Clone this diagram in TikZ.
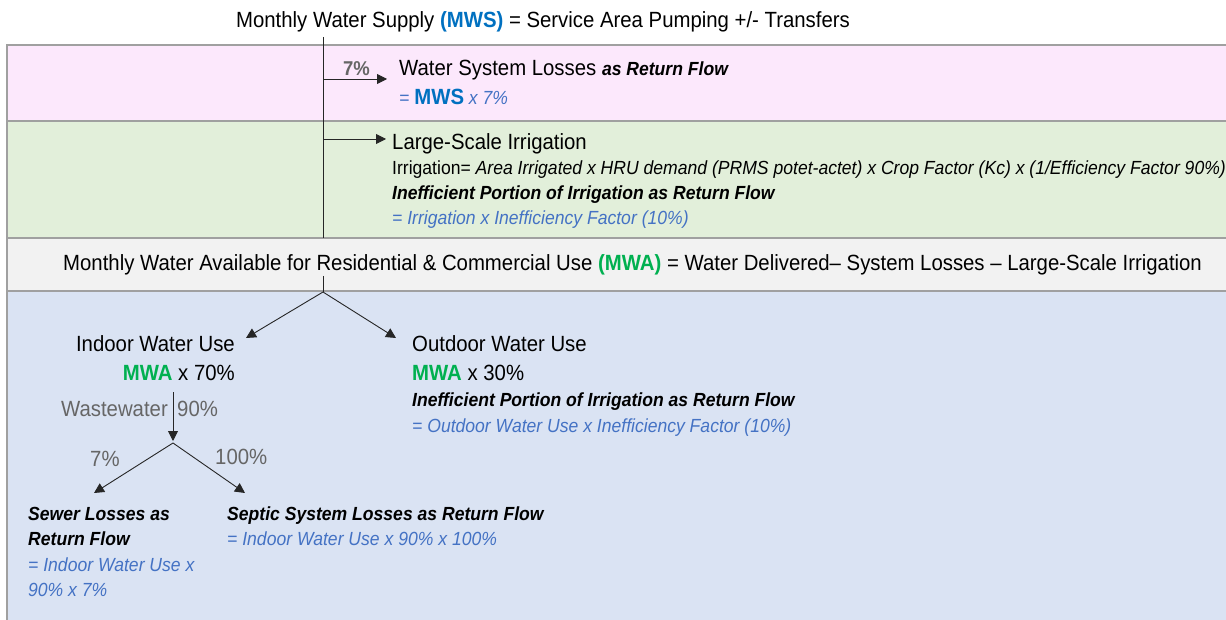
\documentclass[tikz,border=0pt]{standalone}
\usepackage{fontspec}
\setmainfont{Liberation Sans}[FakeStretch=0.925]
\usetikzlibrary{arrows.meta}
\definecolor{pinkband}{HTML}{FCE8FC}
\definecolor{greenband}{HTML}{E2EFDA}
\definecolor{grayband}{HTML}{F2F2F2}
\definecolor{blueband}{HTML}{DAE3F3}
\definecolor{bandline}{HTML}{A0A0A0}
\definecolor{mwsblue}{HTML}{0070C0}
\definecolor{lightblue}{HTML}{4472C4}
\definecolor{mwagreen}{HTML}{00B050}
\definecolor{pctgray}{HTML}{666666}
\definecolor{linegray}{HTML}{262626}
\tikzset{
  band/.style={draw=bandline,line width=1.2pt},
  txt/.style={inner sep=0pt,anchor=base west,font=\fontsize{22}{26}\selectfont},
  small/.style={inner sep=0pt,anchor=base west,font=\fontsize{19}{22}\selectfont},
  bi/.style={inner sep=0pt,anchor=base west,font=\fontsize{19}{22}\selectfont\bfseries\itshape},
  formula/.style={inner sep=0pt,anchor=base west,font=\fontsize{19}{22}\selectfont\itshape,text=lightblue},
  pct/.style={inner sep=0pt,anchor=base west,font=\fontsize{22}{26}\selectfont,text=pctgray},
  flow/.style={draw=linegray,line width=0.9pt,-{Triangle[length=10pt,width=10pt]}},
  plain/.style={draw=linegray,line width=0.9pt}
}
\begin{document}
\begin{tikzpicture}[x=1pt,y=-1pt]
\useasboundingbox (0,0) rectangle (1226,620);
% bands
\path[band,fill=pinkband] (7,45) rectangle (1230,121);
\path[band,fill=greenband] (7,121) rectangle (1230,238);
\path[band,fill=grayband] (7,238) rectangle (1230,291);
\path[band,fill=blueband] (7,291) rectangle (1230,625);

% title
\node[txt,anchor=base] (title) at (543,28) {Monthly Water Supply \textcolor{mwsblue}{\textbf{(MWS)}} = Service Area Pumping +/- Transfers};

% main trunk
\coordinate (trunktop) at (323,37);
\coordinate (trunkbot) at (323,238);
\coordinate (lossstart) at (323,79);
\coordinate (lossend) at (387,79);
\coordinate (irrstart) at (323,139);
\coordinate (irrend) at (386,139);
\draw[plain] (trunktop) -- (trunkbot);
\draw[flow] (lossstart) -- (lossend);
\draw[flow] (irrstart) -- (irrend);
\node[inner sep=0pt,anchor=base east,font=\fontsize{20}{24}\selectfont\bfseries,text=pctgray] (lossPct) at (370,76) {7\%};

% system losses
\node[txt] (losses) at (399,76) {Water System Losses {\fontsize{19}{22}\selectfont\bfseries\itshape as Return Flow}};
\node[formula] (lossF) at (399,105) {= {\upshape\bfseries\fontsize{22}{26}\selectfont\textcolor{mwsblue}{MWS}} x 7\%};

% irrigation
\node[txt] (irr) at (392,150) {Large-Scale Irrigation};
\node[small] (irrEq) at (392,175) {Irrigation= \textit{Area Irrigated x HRU demand (PRMS potet-actet) x Crop Factor (Kc) x (1/Efficiency Factor 90\%)}};
\node[bi] (irrRF) at (392,200) {Inefficient Portion of Irrigation as Return Flow};
\node[formula] (irrF) at (392,225) {= Irrigation x Inefficiency Factor (10\%)};

% MWA
\node[txt] (mwa) at (63,271) {Monthly Water Available for Residential \& Commercial Use \textcolor{mwagreen}{\textbf{(MWA)}} = Water Delivered-- System Losses -- Large-Scale Irrigation};
\coordinate (mwastem) at (323,276);
\coordinate (split) at (323,292);
\coordinate (indoorend) at (246,338);
\coordinate (outdoorend) at (396,338);
\draw[plain] (mwastem) -- (split);
\draw[flow] (split) -- (indoorend);
\draw[flow] (split) -- (outdoorend);

% indoor
\node[txt,anchor=base east] (indoor) at (235,351) {Indoor Water Use};
\node[txt,anchor=base east] (indoorF) at (235,380) {\textcolor{mwagreen}{\textbf{MWA}} x 70\%};
\coordinate (wwtop) at (173,392);
\coordinate (wwend) at (173,441);
\draw[flow] (wwtop) -- (wwend);
\node[pct,anchor=base east] (ww) at (168,416) {Wastewater};
\node[pct] (ww90) at (177,416) {90\%};
\coordinate (wsplit) at (173,443);
\coordinate (sewerend) at (94,493);
\coordinate (septicend) at (245,493);
\draw[flow] (wsplit) -- (sewerend);
\draw[flow] (wsplit) -- (septicend);
\node[pct] (p7) at (90,466) {7\%};
\node[pct] (p100) at (215,464) {100\%};

% sewer
\node[bi] (sewer1) at (28,520) {Sewer Losses as};
\node[bi] (sewer2) at (28,545) {Return Flow};
\node[formula] (sewerF1) at (28,571) {= Indoor Water Use x};
\node[formula] (sewerF2) at (28,596) {90\% x 7\%};

% septic
\node[bi] (septic) at (227,520) {Septic System Losses as Return Flow};
\node[formula] (septicF) at (227,545) {= Indoor Water Use x 90\% x 100\%};

% outdoor
\node[txt] (outdoor) at (412,351) {Outdoor Water Use};
\node[txt] (outdoorF) at (412,380) {\textcolor{mwagreen}{\textbf{MWA}} x 30\%};
\node[bi] (outRF) at (412,406) {Inefficient Portion of Irrigation as Return Flow};
\node[formula] (outF) at (412,432) {= Outdoor Water Use x Inefficiency Factor (10\%)};
\end{tikzpicture}
\end{document}
